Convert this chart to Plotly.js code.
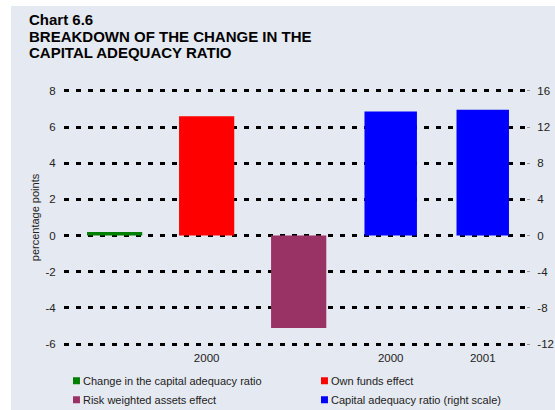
<!DOCTYPE html>
<html>
<head>
<meta charset="utf-8">
<script src="https://cdn.plot.ly/plotly-3.0.1.min.js"></script>
<style>
  html, body { margin: 0; padding: 0; background: #ffffff; }
  #chart { position: absolute; left: 11px; top: 6px; width: 544px; height: 404px; }
  #chart .legendpoints path { transform: translate(33.5px, 0px) scale(0.58); }
</style>
</head>
<body>
<div id="chart"></div>
<script>
// ---- data ----
const positions = [0, 1, 2, 3, 4];
const tickLabels = ["", "2000", "", "2000", "2001"];

const changeName = "Change in the capital adequacy ratio";
const changeX = [0];
const changeY = [0.2];

const ownFundsName = "Own funds effect";
const ownFundsX = [1];
const ownFundsY = [6.6];

const rwaName = "Risk weighted assets effect";
const rwaX = [2];
const rwaY = [-5.1];

const carName = "Capital adequacy ratio (right scale)";
const carX = [3, 4];
const carY = [13.7, 13.9];

const leftTicks = [-6, -4, -2, 0, 2, 4, 6, 8];
const leftTickText = ["-6", "-4", "-2", "0", "2", "4", "6", "8"];
const rightTicks = [-12, -8, -4, 0, 4, 8, 12, 16];
const rightTickText = ["-12", "-8", "-4", "0", "4", "8", "12", "16"];

const titleLines = ["Chart 6.6", "BREAKDOWN OF THE CHANGE IN THE", "CAPITAL ADEQUACY RATIO"];

// ---- chart ----
const FONT = "Liberation Sans, Arial, sans-serif";
const BG = "#E5E9F1";

const traces = [
  {type: "bar", name: changeName, x: changeX, y: changeY, width: 0.6,
   marker: {color: "#008000"}, yaxis: "y"},
  {type: "bar", name: ownFundsName, x: ownFundsX, y: ownFundsY, width: 0.6,
   marker: {color: "#FF0000"}, yaxis: "y"},
  {type: "bar", name: rwaName, x: rwaX, y: rwaY, width: 0.6,
   marker: {color: "#993366"}, yaxis: "y"},
  {type: "bar", name: carName, x: carX, y: carY, width: 0.57,
   marker: {color: "#0000FF"}, yaxis: "y2"}
];

const titleY = [1.2685, 1.2043, 1.1401];
const annotations = titleLines.map((t, i) => ({
  text: "<b>" + t + "</b>",
  xref: "paper", yref: "paper",
  x: -0.0801, xanchor: "left",
  y: titleY[i], yanchor: "middle",
  showarrow: false,
  font: {family: FONT, size: 15, color: "#000000"}
}));

const layout = {
  width: 544, height: 404,
  paper_bgcolor: BG, plot_bgcolor: BG,
  margin: {l: 53, r: 29, t: 83, b: 64, autoexpand: false},
  barmode: "overlay",
  font: {family: FONT, size: 11, color: "#222222"},
  annotations: annotations,
  xaxis: {
    range: [-0.55, 4.47],
    tickmode: "array", tickvals: positions, ticktext: tickLabels,
    showgrid: false, zeroline: false, showline: false, ticks: "",
    ticklabelstandoff: 3,
    tickfont: {family: FONT, size: 11.5, color: "#222222"},
    fixedrange: true
  },
  yaxis: {
    range: [-6.1, 8.1],
    tickmode: "array", tickvals: leftTicks, ticktext: leftTickText,
    showgrid: true, gridcolor: "#000000", gridwidth: 3, griddash: "5px,7px",
    zeroline: false, showline: false,
    ticks: "outside", ticklen: 5, tickcolor: "rgba(0,0,0,0)",
    tickfont: {family: FONT, size: 11.5, color: "#222222"},
    title: {text: "percentage points", font: {family: FONT, size: 11, color: "#222222"}, standoff: 3},
    fixedrange: true
  },
  yaxis2: {
    range: [-12.2, 16.2],
    overlaying: "y", side: "right",
    tickmode: "array", tickvals: rightTicks, ticktext: rightTickText,
    showgrid: false, zeroline: false, showline: false,
    ticks: "outside", ticklen: 3, tickwidth: 1, tickcolor: "#999999",
    ticklabelstandoff: 5,
    tickfont: {family: FONT, size: 11.5, color: "#222222"},
    fixedrange: true
  },
  showlegend: true,
  legend: {
    orientation: "h",
    x: -0.0455, xanchor: "left",
    y: -0.079, yanchor: "top",
    entrywidth: 203, entrywidthmode: "pixels",
    bgcolor: "rgba(0,0,0,0)",
    font: {family: FONT, size: 11, color: "#222222"},
    traceorder: "normal"
  }
};

Plotly.newPlot("chart", traces, layout, {displayModeBar: false, staticPlot: true});
</script>
</body>
</html>
